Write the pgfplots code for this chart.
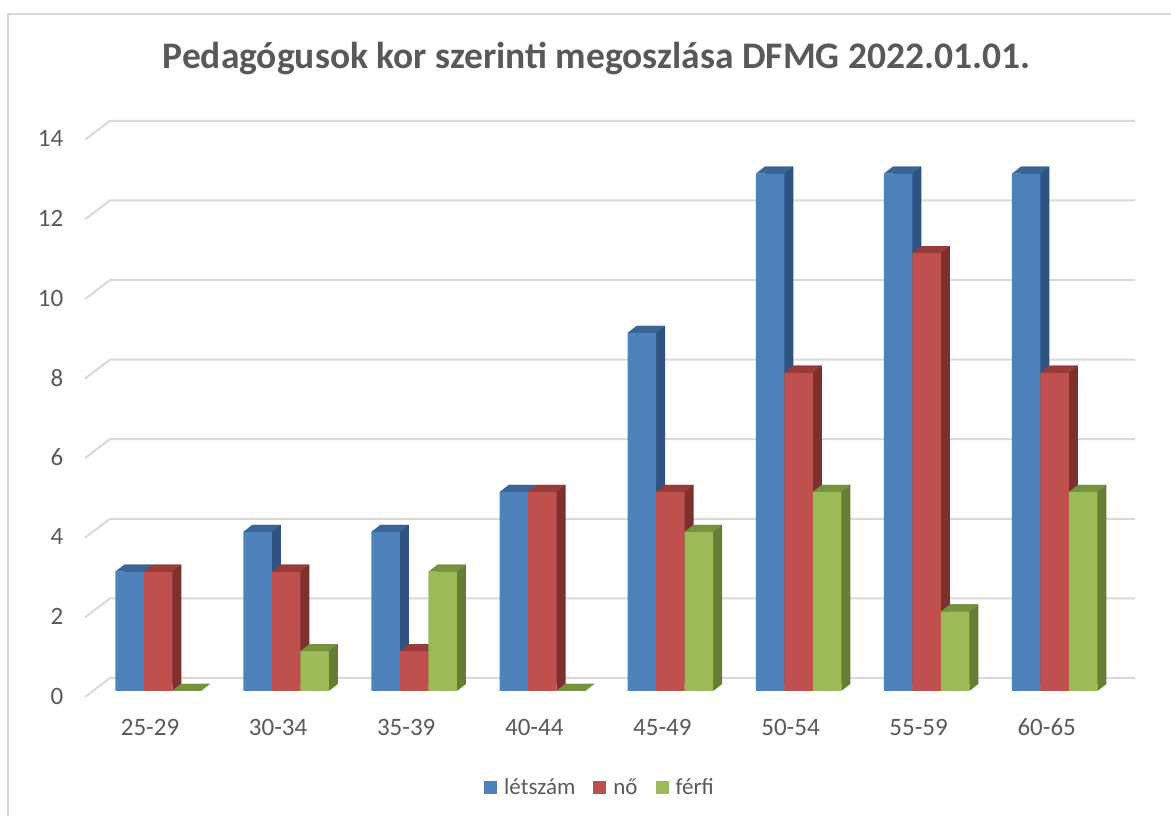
\documentclass[border=0pt]{standalone}
\usepackage{pgfplots}
\pgfplotsset{compat=1.18}
\usepackage{pgfplotstable}
\usepackage{fontspec}
\setmainfont{Carlito}
\definecolor{txt}{HTML}{595959}
\definecolor{bordc}{HTML}{D9D9D9}
\definecolor{gridc}{HTML}{D9D9D9}
\definecolor{bfront}{HTML}{4F81BD}
\definecolor{bside}{HTML}{2F5381}
\definecolor{btop}{HTML}{3B6597}
\definecolor{rfront}{HTML}{C0504D}
\definecolor{rside}{HTML}{7F302E}
\definecolor{rtop}{HTML}{9A3B39}
\definecolor{gfront}{HTML}{9BBB59}
\definecolor{gside}{HTML}{667D36}
\definecolor{gtop}{HTML}{77923F}
\pgfdeclareplotmark{topface}{%
  \pgfpathmoveto{\pgfqpoint{-14.25pt}{0pt}}%
  \pgfpathlineto{\pgfqpoint{14.25pt}{0pt}}%
  \pgfpathlineto{\pgfqpoint{23.25pt}{7pt}}%
  \pgfpathlineto{\pgfqpoint{-5.25pt}{7pt}}%
  \pgfpathclose\pgfusepath{fill}}
\pgfdeclareplotmark{botface}{%
  \pgfpathmoveto{\pgfqpoint{14.25pt}{0pt}}%
  \pgfpathlineto{\pgfqpoint{23.25pt}{7pt}}%
  \pgfpathlineto{\pgfqpoint{14.25pt}{7pt}}%
  \pgfpathclose\pgfusepath{fill}}
\pgfplotstableread{
x l n f z
0 3 3 0 0
1 4 3 1 0
2 4 1 3 0
3 5 5 0 0
4 9 5 4 0
5 13 8 5 0
6 13 11 2 0
7 13 8 5 0
}\data
\begin{document}
\begin{tikzpicture}[x=1pt,y=1pt]
\useasboundingbox (0,0) rectangle (1171,816);
\begin{scope}
\clip (0,0) rectangle (1171,816);
\draw[bordc, line width=2pt] (8,802) rectangle (1190,-20);
\end{scope}
\node[font=\fontsize{37.5}{40}\selectfont\bfseries, text=txt, anchor=base] at (596.5,747) {Pedagógusok kor szerinti megoszlása DFMG 2022.01.01.};
\begin{axis}[
  at={(63.5pt,80pt)}, anchor=south west,
  x=128.1pt, y=39.8pt,
  xmin=-0.7377, xmax=7.8, ymin=-1.1307, ymax=14.5,
  axis line style={draw=none}, major tick length=0pt, tick style={draw=none},
  clip=false, clip mode=individual,
  xtick={0,...,7},
  xticklabels={25-29,30-34,35-39,40-44,45-49,50-54,55-59,60-65},
  ytick={0,2,...,14},
  xticklabel style={anchor=base, inner sep=0pt, xshift=-8pt},
  yticklabel style={anchor=east, inner sep=0pt, yshift=-5pt},
  tick label style={font=\fontsize{25}{28}\selectfont, text=txt},
  /pgf/number format/assume math mode=true,
  legend style={at={(0.4905,-0.082)}, anchor=center, draw=none, fill=none,
    legend columns=-1, font=\fontsize{23}{26}\selectfont, text=txt,
    /tikz/every even column/.append style={column sep=16pt},
    /tikz/every odd column/.append style={column sep=5pt}},
  sq/.style={legend image code/.code={\fill[#1] (0pt,-6.5pt) rectangle (13pt,6.5pt);}},
]
\pgfplotsinvokeforeach{0,2,...,14}{
  \draw[gridc, line width=2pt] (axis cs:-0.5699,#1) ++(0pt,-6pt) -- ++(25pt,19pt) -- ++(1025pt,0pt);
}
% letszam
\addplot[ybar, bar width=28.5pt, bar shift=-19.5pt, yshift=7pt, fill=bside, draw=none, forget plot] table[x=x,y=l]{\data};
\addplot[only marks, mark=botface, mark options={fill=bside, draw=none, xshift=-28.5pt}, forget plot] table[x=x,y=z]{\data};
\addplot[ybar, bar width=28.5pt, bar shift=-28.5pt, fill=bfront, draw=none, sq=bfront] table[x=x,y=l]{\data};
\addlegendentry{létszám}
\addplot[only marks, mark=topface, mark options={fill=btop, draw=none, xshift=-28.5pt}, forget plot] table[x=x,y=l]{\data};
% no
\addplot[ybar, bar width=28.5pt, bar shift=9pt, yshift=7pt, fill=rside, draw=none, forget plot] table[x=x,y=n]{\data};
\addplot[only marks, mark=botface, mark options={fill=rside, draw=none}, forget plot] table[x=x,y=z]{\data};
\addplot[ybar, bar width=28.5pt, bar shift=0pt, fill=rfront, draw=none, sq=rfront] table[x=x,y=n]{\data};
\addlegendentry{nő}
\addplot[only marks, mark=topface, mark options={fill=rtop, draw=none}, forget plot] table[x=x,y=n]{\data};
% ferfi
\addplot[ybar, bar width=28.5pt, bar shift=37.5pt, yshift=7pt, fill=gside, draw=none, forget plot] table[x=x,y=f]{\data};
\addplot[only marks, mark=botface, mark options={fill=gside, draw=none, xshift=28.5pt}, forget plot] table[x=x,y=z]{\data};
\addplot[ybar, bar width=28.5pt, bar shift=28.5pt, fill=gfront, draw=none, sq=gfront] table[x=x,y=f]{\data};
\addlegendentry{férfi}
\addplot[only marks, mark=topface, mark options={fill=gtop, draw=none, xshift=28.5pt}, forget plot] table[x=x,y=f]{\data};
\end{axis}
\end{tikzpicture}
\end{document}
